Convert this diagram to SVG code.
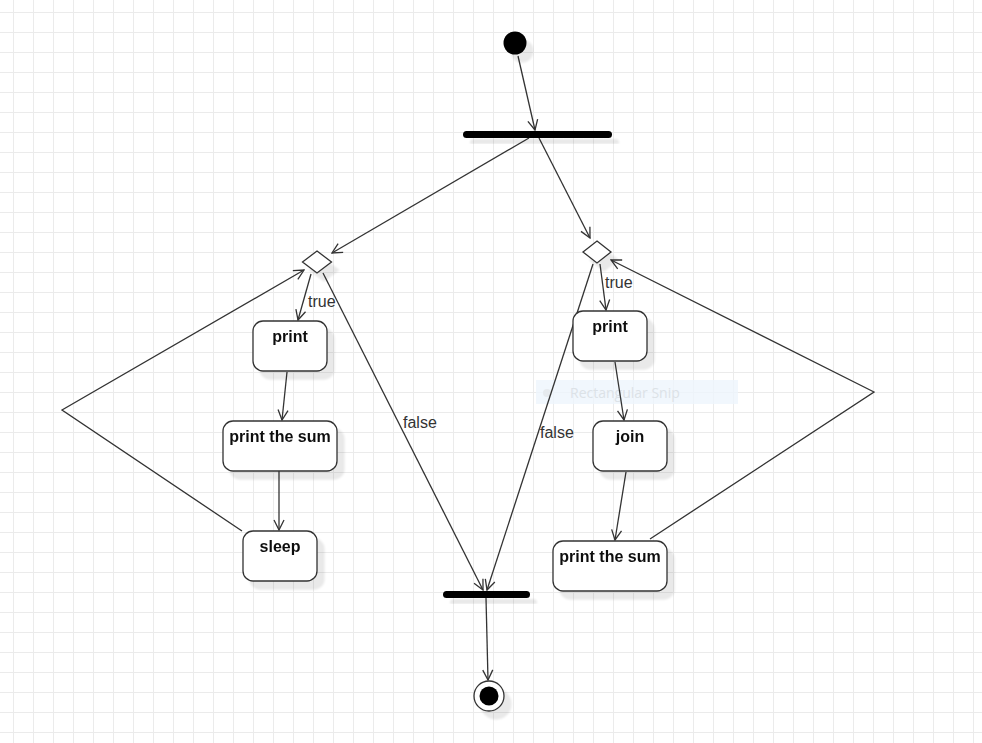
<svg xmlns="http://www.w3.org/2000/svg" width="982" height="743" viewBox="0 0 982 743">
<style>
.node{fill:#fff;stroke:#333;stroke-width:1.3}
.lbl{font-family:"Liberation Sans",Arial,sans-serif;font-size:16px;font-weight:bold;fill:#111;text-anchor:middle}
.edge{fill:none;stroke:#333;stroke-width:1.3}
.elbl{font-family:"Liberation Sans",Arial,sans-serif;font-size:16px;fill:#333}
.bar{fill:#000}
</style>
<defs>
<pattern id="grid" x="13" y="12" width="20" height="20" patternUnits="userSpaceOnUse">
<path d="M0 0.5 H20 M0.5 0 V20" fill="none" stroke="#ebebeb" stroke-width="1"/>
</pattern>
<filter id="sh" x="-20%" y="-20%" width="150%" height="200%">
<feOffset in="SourceAlpha" dx="7" dy="8" result="o"/>
<feGaussianBlur in="o" stdDeviation="1.2" result="b"/>
<feComponentTransfer in="b" result="c"><feFuncA type="linear" slope="0.09"/></feComponentTransfer>
<feMerge><feMergeNode in="c"/><feMergeNode in="SourceGraphic"/></feMerge>
</filter>
<marker id="arr" markerWidth="12" markerHeight="12" refX="10" refY="5" orient="auto" markerUnits="userSpaceOnUse" viewBox="-1 -1 12 12">
<path d="M0,0 L10,5 L0,10" fill="none" stroke="#333" stroke-width="1.3"/>
</marker>
</defs>
<rect width="982" height="743" fill="#fff"/>
<rect width="982" height="743" fill="url(#grid)"/>

<g id="snip">
<rect x="536" y="380" width="202" height="24" fill="#eef5fc" opacity="0.8"/>
<circle cx="547" cy="393" r="4" fill="#e6eaee"/>
<text x="570" y="398" font-family="'Open Sans','Liberation Sans',sans-serif" font-size="14px" fill="#dce2e7">Rectangular Snip</text>
</g>

<g id="connectors">
<line class="edge" x1="518" y1="56" x2="535" y2="130" marker-end="url(#arr)"/>
<line class="edge" x1="529" y1="138" x2="332" y2="253" marker-end="url(#arr)"/>
<line class="edge" x1="539" y1="138" x2="590" y2="238" marker-end="url(#arr)"/>
<line class="edge" x1="311" y1="274" x2="298" y2="320" marker-end="url(#arr)"/>
<line class="edge" x1="287" y1="372" x2="282" y2="420" marker-end="url(#arr)"/>
<line class="edge" x1="279" y1="471" x2="279" y2="530" marker-end="url(#arr)"/>
<polyline class="edge" points="242,531 62,410 304,270" marker-end="url(#arr)"/>
<line class="edge" x1="323" y1="273" x2="483" y2="590" marker-end="url(#arr)"/>
<line class="edge" x1="600" y1="264" x2="606" y2="310" marker-end="url(#arr)"/>
<line class="edge" x1="615" y1="362" x2="624" y2="420" marker-end="url(#arr)"/>
<line class="edge" x1="626" y1="472" x2="615" y2="540" marker-end="url(#arr)"/>
<polyline class="edge" points="650,539 874,392 611,260" marker-end="url(#arr)"/>
<line class="edge" x1="593" y1="264" x2="487" y2="590" marker-end="url(#arr)"/>
<line class="edge" x1="486" y1="598" x2="488" y2="680" marker-end="url(#arr)"/>
<text class="elbl" x="308" y="307">true</text>
<text class="elbl" x="605" y="288">true</text>
<text class="elbl" x="403" y="428">false</text>
<text class="elbl" x="540" y="438">false</text>
</g>

<g id="start" filter="url(#sh)"><circle cx="515" cy="43" r="11.5" fill="#000"/></g>
<g id="fork" filter="url(#sh)"><rect class="bar" x="463" y="131" width="149" height="7" rx="3.5"/></g>
<g id="decision1" filter="url(#sh)"><polygon class="node" points="317,251 331.5,262 317,273 302.5,262"/></g>
<g id="decision2" filter="url(#sh)"><polygon class="node" points="597,241 611,252 597,263 583,252"/></g>
<g id="print1" filter="url(#sh)"><rect class="node" x="253" y="321" width="74" height="50" rx="10"/><text class="lbl" x="290" y="342">print</text></g>
<g id="sum1" filter="url(#sh)"><rect class="node" x="223" y="421" width="114" height="50" rx="10"/><text class="lbl" x="280" y="442">print the sum</text></g>
<g id="sleep" filter="url(#sh)"><rect class="node" x="243" y="531" width="74" height="50" rx="10"/><text class="lbl" x="280" y="552">sleep</text></g>
<g id="print2" filter="url(#sh)"><rect class="node" x="573" y="311" width="74" height="50" rx="10"/><text class="lbl" x="610" y="332">print</text></g>
<g id="join" filter="url(#sh)"><rect class="node" x="593" y="421" width="74" height="50" rx="10"/><text class="lbl" x="630" y="442">join</text></g>
<g id="sum2" filter="url(#sh)"><rect class="node" x="553" y="541" width="114" height="50" rx="10"/><text class="lbl" x="610" y="562">print the sum</text></g>
<g id="joinbar" filter="url(#sh)"><rect class="bar" x="443" y="591" width="87" height="7" rx="3.5"/></g>
<g id="end" filter="url(#sh)"><circle cx="489" cy="696" r="15" fill="#fff" stroke="#333" stroke-width="1.3"/><circle cx="489" cy="696" r="9.5" fill="#000"/></g>
</svg>
